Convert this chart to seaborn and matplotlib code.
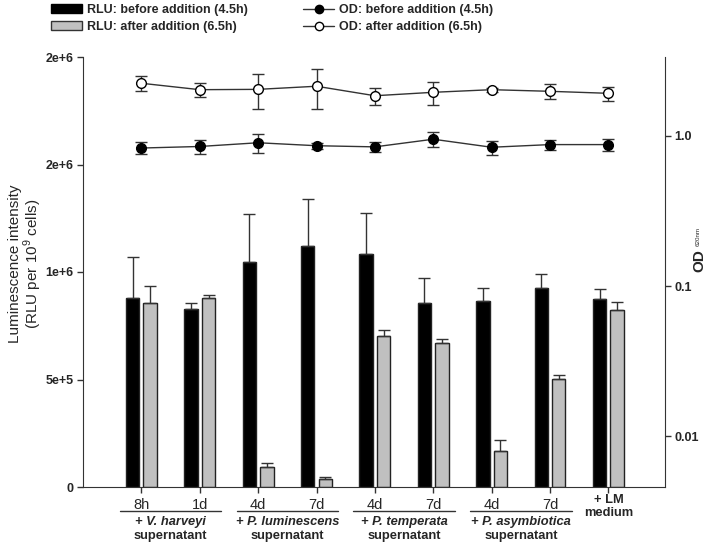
import numpy as np
import pandas as pd
import seaborn as sns
import matplotlib.pyplot as plt
from matplotlib.patches import Patch
from matplotlib.lines import Line2D
from matplotlib.ticker import NullLocator

# conditions on the x axis (one slot each)
conditions = ["Vh 8h", "Vh 1d", "Pl 4d", "Pl 7d", "Pt 4d", "Pt 7d", "Pa 4d", "Pa 7d", "LM"]
tick_labels = ["8h", "1d", "4d", "7d", "4d", "7d", "4d", "7d", ""]
group_names = ["+ V. harveyi", "+ P. luminescens", "+ P. temperata", "+ P. asymbiotica"]
hue_levels = ["RLU: before addition (4.5h)", "RLU: after addition (6.5h)"]

# luminescence (RLU per 10^9 cells), mean and upper SD
rlu_before = [880e3, 828e3, 1046e3, 1122e3, 1085e3, 856e3, 867e3, 926e3, 873e3]
rlu_before_err = [189e3, 28e3, 225e3, 217e3, 188e3, 114e3, 58e3, 66e3, 49e3]
rlu_after = [856e3, 880e3, 95e3, 36e3, 701e3, 671e3, 169e3, 502e3, 825e3]
rlu_after_err = [81e3, 15e3, 15e3, 9e3, 31e3, 19e3, 50e3, 19e3, 34e3]

# OD620
od_before = [0.83, 0.85, 0.90, 0.86, 0.845, 0.95, 0.84, 0.875, 0.875]
od_before_err = [0.074, 0.094, 0.133, 0.037, 0.066, 0.111, 0.091, 0.069, 0.083]
od_after = [2.24, 2.03, 2.04, 2.14, 1.85, 1.95, 2.03, 1.98, 1.92]
od_after_err = [0.25, 0.21, 0.53, 0.63, 0.24, 0.34, 0.06, 0.22, 0.21]

df = pd.DataFrame({
    "condition": conditions * 2,
    "time": [hue_levels[0]] * 9 + [hue_levels[1]] * 9,
    "rlu": rlu_before + rlu_after,
})

sns.set_style("ticks")
plt.rcParams["font.family"] = ["Liberation Sans", "DejaVu Sans"]
plt.rcParams["mathtext.fontset"] = "custom"
plt.rcParams["mathtext.rm"] = "Liberation Sans"

dark = "#333333"
fig = plt.figure(figsize=(7.08, 5.48), dpi=100)
ax = fig.add_axes([83 / 708, 1 - 487 / 548, (665 - 83) / 708, (487 - 57) / 548])

sns.barplot(data=df, x="condition", y="rlu", hue="time", hue_order=hue_levels,
            palette=["black", "#c0c0c0"], width=0.6, gap=0.23, errorbar=None,
            edgecolor="#222222", linewidth=1, legend=False, ax=ax)

# one-sided error bars on top of each bar
bars = sorted(ax.patches, key=lambda p: p.get_x())
errs = [e for pair in zip(rlu_before_err, rlu_after_err) for e in pair]
xs = [b.get_x() + b.get_width() / 2 for b in bars]
hs = [b.get_height() for b in bars]
ax.errorbar(xs, hs, yerr=[np.zeros(len(errs)), errs], fmt="none", ecolor=dark,
            elinewidth=1, capsize=4.5, capthick=1, zorder=1)

ax.set_xlim(-1.0, 8.97)
ax.set_ylim(0, 2.0e6)
ax.set_yticks([0, 5e5, 1e6, 1.5e6, 2e6])
ax.set_yticklabels(["0", "5e+5", "1e+6", "2e+6", "2e+6"], fontweight="bold", fontsize=9)
ax.set_xticks(range(9))
ax.set_xticklabels(tick_labels, fontsize=10.5)
ax.set_xlabel("")
ax.set_ylabel("Luminescence intensity\n(RLU per 10$^{\\mathregular{9}}$ cells)", fontsize=11,
              linespacing=1.0, multialignment="center")
ax.yaxis.set_label_coords(-0.067, 0.52)
ax.tick_params(axis="both", length=4, width=1, color=dark, pad=3)
ax.tick_params(axis="x", pad=4)
for s in ["top", "right"]:
    ax.spines[s].set_visible(False)
for s in ["left", "bottom"]:
    ax.spines[s].set_color(dark)

# OD on log right axis
ax2 = ax.twinx()
x_pos = np.arange(len(conditions))
ax2.errorbar(x_pos, od_before, yerr=od_before_err, fmt="-o", color=dark, lw=1,
             mfc="black", mec="black", ms=7, ecolor=dark, elinewidth=1, capsize=4.5)
ax2.errorbar(x_pos, od_after, yerr=od_after_err, fmt="-o", color=dark, lw=1,
             mfc="white", mec="black", ms=7, ecolor=dark, elinewidth=1, capsize=4.5)
ax2.set_yscale("log")
ax2.set_ylim(0.0046, 3.35)
ax2.set_yticks([0.01, 0.1, 1.0])
ax2.set_yticklabels(["0.01", "0.1", "1.0"], fontweight="bold", fontsize=9)
ax2.yaxis.set_minor_locator(NullLocator())
ax2.tick_params(axis="y", length=4, width=1, color=dark, pad=3)
for s in ["top", "left", "bottom"]:
    ax2.spines[s].set_visible(False)
ax2.spines["right"].set_color(dark)

fig.text(699 / 708, 1 - 261 / 548, "OD", rotation=90, fontweight="bold",
         fontsize=11, ha="center", va="center")
fig.text(698 / 708, 1 - 237 / 548, "620nm", rotation=90, fontsize=4.5,
         ha="center", va="center")

# group annotations under the x axis
tr = ax.get_xaxis_transform()
for i, name in enumerate(group_names):
    c = 2 * i + 0.5
    ax.plot([c - 0.87, c + 0.87], [-0.0558, -0.0558], color=dark, lw=1,
            transform=tr, clip_on=False)
    ax.text(c, -0.068, name, transform=tr, ha="center", va="top",
            fontsize=9.3, fontweight="bold", fontstyle="italic")
    ax.text(c, -0.101, "supernatant", transform=tr, ha="center", va="top",
            fontsize=9.3, fontweight="bold")
ax.text(8, -0.016, "+ LM\nmedium", transform=tr, ha="center", va="top",
        fontsize=9.3, fontweight="bold", linespacing=1.1)

handles = [
    Patch(facecolor="black", edgecolor="black"),
    Patch(facecolor="#c0c0c0", edgecolor=dark),
    Line2D([], [], color=dark, lw=1, marker="o", mfc="black", mec="black", ms=6),
    Line2D([], [], color=dark, lw=1, marker="o", mfc="white", mec="black", ms=6),
]
labels = hue_levels + ["OD: before addition (4.5h)", "OD: after addition (6.5h)"]
fig.legend(handles, labels, ncol=2, loc="upper left", bbox_to_anchor=(46 / 708, 1.002),
           frameon=False, prop={"weight": "bold", "size": 9}, handlelength=2.5,
           handletextpad=0.4, columnspacing=4.4, labelspacing=0.4, borderaxespad=0)

fig.savefig("out.png", dpi=100)
